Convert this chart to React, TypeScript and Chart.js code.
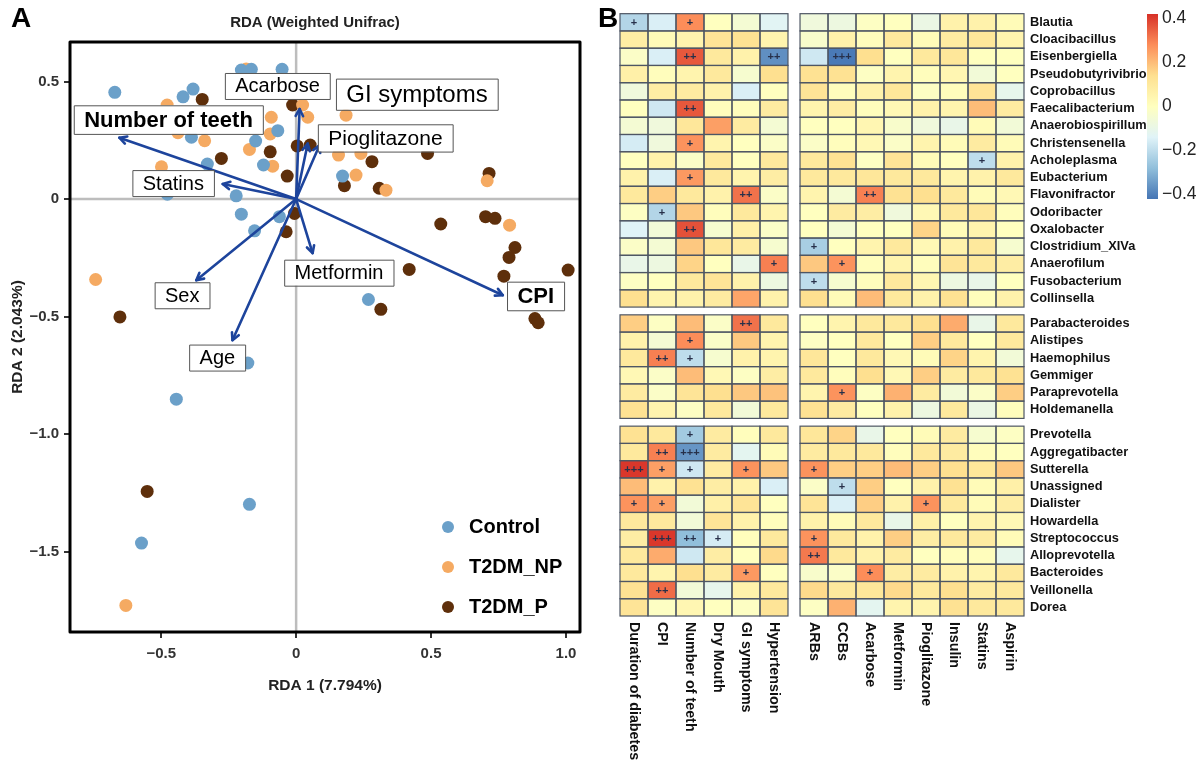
import React, { useEffect, useRef } from "react";
import { Chart, registerables } from "chart.js";

Chart.register(...registerables);

const FONT = '"Liberation Sans", Arial, Helvetica, sans-serif';

// ---------------- Panel A: RDA biplot data ----------------
const GROUP_NAMES = ["Control", "T2DM_NP", "T2DM_P"];
const GROUP_COLORS = ["#6ba0c9", "#f5aa62", "#5e2f0b"];

const CONTROL_X = [-0.672, -0.203, -0.166, -0.052, -0.419, -0.382, -0.068, -0.388, -0.15, -0.121, -0.329, -0.222, -0.477, -0.203, -0.154, -0.062, -0.179, -0.444, -0.173, -0.573, 0.172, 0.268];
const CONTROL_Y = [0.454, 0.549, 0.552, 0.552, 0.435, 0.468, 0.291, 0.263, 0.247, 0.145, 0.149, 0.014, 0.021, -0.064, -0.135, -0.075, -0.697, -0.851, -1.298, -1.463, 0.098, -0.427];

const NP_X = [-0.478, -0.438, -0.339, -0.499, -0.092, -0.096, -0.173, -0.087, 0.024, 0.043, -0.185, 0.185, 0.157, 0.24, 0.222, 0.333, 0.708, 0.791, -0.743, -0.631];
const NP_Y = [0.4, 0.282, 0.248, 0.137, 0.348, 0.277, 0.211, 0.14, 0.4, 0.348, 0.553, 0.357, 0.187, 0.194, 0.102, 0.038, 0.078, -0.111, -0.342, -1.728];

const P_X = [-0.348, -0.277, -0.096, -0.033, -0.013, 0.004, 0.052, -0.006, -0.037, 0.179, 0.281, 0.308, 0.487, 0.715, 0.536, 0.702, 0.737, 0.811, 0.789, 0.77, 1.008, 0.419, 0.314, 0.885, 0.897, -0.653, -0.552];
const P_Y = [0.424, 0.173, 0.201, 0.098, 0.4, 0.226, 0.23, -0.061, -0.139, 0.057, 0.159, 0.046, 0.194, 0.109, -0.106, -0.075, -0.082, -0.206, -0.248, -0.328, -0.302, -0.299, -0.469, -0.508, -0.526, -0.501, -1.243];

const ARROW_NAMES = ["Number of teeth", "Statins", "Acarbose", "GI symptoms", "Pioglitazone", "Metformin", "CPI", "Sex", "Age"];
const ARROW_X = [-0.655, -0.272, 0.013, 0.043, 0.087, 0.061, 0.766, -0.37, -0.236];
const ARROW_Y = [0.261, 0.064, 0.383, 0.236, 0.23, -0.23, -0.409, -0.345, -0.6];
const LABEL_X = [-0.473, -0.455, -0.069, 0.448, 0.331, 0.159, 0.888, -0.422, -0.292];
const LABEL_Y = [0.338, 0.068, 0.481, 0.446, 0.26, -0.313, -0.412, -0.409, -0.674];
const LABEL_SIZE = [22, 20, 20, 24, 21, 20, 22, 20, 20];
const LABEL_BOLD = [true, false, false, false, false, false, true, false, false];

const X_MIN = -0.838;
const X_MAX = 1.052;
const Y_MIN = -1.841;
const Y_MAX = 0.668;
const X_TICKS = [-0.5, 0, 0.5, 1.0];
const X_TICK_LABELS = ["\u22120.5", "0", "0.5", "1.0"];
const Y_TICKS = [0.5, 0, -0.5, -1.0, -1.5];
const Y_TICK_LABELS = ["0.5", "0", "\u22120.5", "\u22121.0", "\u22121.5"];

// ---------------- Panel B: heatmap data ----------------
const ROWS = [
  "Blautia", "Cloacibacillus", "Eisenbergiella", "Pseudobutyrivibrio", "Coprobacillus", "Faecalibacterium",
  "Anaerobiospirillum", "Christensenella", "Acholeplasma", "Eubacterium", "Flavonifractor", "Odoribacter",
  "Oxalobacter", "Clostridium_XIVa", "Anaerofilum", "Fusobacterium", "Collinsella",
  "Parabacteroides", "Alistipes", "Haemophilus", "Gemmiger", "Paraprevotella", "Holdemanella",
  "Prevotella", "Aggregatibacter", "Sutterella", "Unassigned", "Dialister", "Howardella",
  "Streptococcus", "Alloprevotella", "Bacteroides", "Veillonella", "Dorea",
];
const COLS = [
  "Duration of diabetes", "CPI", "Number of teeth", "Dry Mouth", "GI symptoms", "Hypertension",
  "ARBs", "CCBs", "Acarbose", "Metformin", "Pioglitazone", "Insulin", "Statins", "Aspirin",
];
const ROW_GROUPS = [17, 6, 11];
const COL_GROUPS = [6, 8];

const VALUES = [
  [-0.22, -0.15, 0.28, 0.0, -0.05, -0.13, -0.07, -0.08, -0.01, 0.0, -0.09, 0.06, 0.06, 0.02],
  [0.08, 0.02, 0.05, 0.12, 0.13, 0.05, -0.03, 0.06, 0.01, 0.1, 0.02, 0.09, 0.11, 0.05],
  [-0.02, -0.15, 0.36, 0.1, 0.06, -0.37, -0.17, -0.41, 0.14, 0.0, 0.1, 0.11, 0.0, 0.0],
  [0.07, 0.01, 0.05, 0.1, -0.04, 0.14, 0.13, 0.13, -0.01, 0.05, 0.01, 0.04, -0.06, 0.0],
  [-0.07, 0.08, 0.09, 0.06, -0.15, 0.0, 0.12, 0.01, 0.06, 0.11, -0.01, 0.01, 0.12, -0.11],
  [0.0, -0.17, 0.36, 0.01, 0.01, 0.09, 0.05, 0.08, 0.01, 0.03, 0.06, 0.05, 0.2, 0.09],
  [-0.05, -0.07, 0.11, 0.25, 0.09, -0.05, 0.0, 0.0, 0.04, -0.03, -0.07, -0.1, 0.02, -0.06],
  [-0.16, -0.07, 0.27, 0.05, 0.0, -0.02, -0.02, 0.01, 0.03, -0.02, 0.05, 0.02, 0.09, 0.02],
  [0.0, 0.06, -0.02, 0.1, 0.0, 0.1, 0.1, 0.13, -0.01, 0.12, 0.02, 0.0, -0.2, 0.06],
  [0.06, -0.15, 0.26, 0.1, 0.05, 0.08, 0.1, 0.1, 0.11, 0.1, 0.1, 0.05, 0.06, 0.1],
  [0.1, 0.17, 0.1, 0.06, 0.32, -0.02, 0.05, -0.05, 0.3, 0.13, 0.14, 0.1, 0.02, 0.03],
  [-0.01, -0.22, 0.18, 0.01, 0.1, 0.05, 0.0, 0.09, 0.08, -0.07, 0.03, 0.1, 0.11, 0.01],
  [-0.14, -0.06, 0.37, -0.04, 0.07, -0.02, 0.0, -0.05, 0.0, 0.0, 0.16, 0.02, 0.05, 0.0],
  [-0.02, -0.05, 0.18, 0.11, 0.09, -0.04, -0.24, 0.0, 0.05, 0.1, 0.03, 0.06, 0.1, -0.04],
  [-0.1, -0.08, 0.16, 0.0, -0.1, 0.3, 0.18, 0.27, 0.01, 0.05, 0.01, 0.12, 0.1, 0.08],
  [-0.01, 0.0, 0.1, 0.12, 0.06, -0.08, -0.2, -0.04, 0.01, 0.1, 0.04, -0.08, -0.1, 0.0],
  [0.14, 0.05, 0.06, 0.09, 0.24, 0.06, 0.14, 0.02, 0.2, 0.1, 0.06, 0.13, 0.01, 0.06],
  [0.17, -0.01, 0.2, -0.02, 0.32, 0.1, 0.0, 0.05, 0.1, 0.1, 0.14, 0.23, -0.1, 0.1],
  [0.06, -0.05, 0.28, -0.02, 0.18, 0.05, -0.01, 0.0, 0.1, 0.0, 0.17, 0.1, 0.0, 0.1],
  [0.1, 0.3, -0.2, -0.04, 0.06, 0.05, 0.11, 0.0, 0.1, 0.03, 0.02, 0.16, 0.05, -0.06],
  [0.03, -0.02, 0.2, 0.03, -0.01, 0.08, 0.1, 0.01, 0.14, 0.03, 0.17, 0.09, 0.1, 0.13],
  [0.09, -0.02, 0.12, 0.14, 0.18, 0.19, 0.05, 0.27, -0.01, 0.22, 0.09, -0.06, -0.02, 0.17],
  [0.13, 0.05, -0.01, 0.1, -0.06, 0.1, 0.13, 0.09, 0.0, 0.06, -0.08, 0.1, -0.09, 0.01],
  [0.13, 0.1, -0.25, 0.09, 0.01, 0.1, 0.11, 0.16, -0.1, 0.0, 0.02, 0.09, -0.04, -0.01],
  [0.1, 0.3, -0.36, 0.09, -0.12, 0.02, 0.09, 0.1, 0.1, 0.01, 0.1, 0.09, 0.01, 0.0],
  [0.41, 0.25, -0.17, 0.09, 0.27, 0.18, 0.27, 0.17, 0.17, 0.2, 0.17, 0.14, 0.11, 0.18],
  [0.2, 0.06, 0.13, 0.08, 0.06, -0.15, -0.02, -0.2, 0.17, 0.0, 0.06, 0.13, 0.02, 0.07],
  [0.27, 0.25, -0.06, 0.07, 0.12, 0.0, 0.12, -0.15, 0.17, 0.06, 0.27, 0.1, 0.02, 0.08],
  [0.1, 0.1, -0.06, 0.12, 0.06, 0.01, 0.06, 0.02, 0.1, -0.1, 0.07, 0.0, 0.05, 0.03],
  [0.08, 0.41, -0.28, -0.16, 0.01, 0.1, 0.27, 0.1, 0.06, 0.17, 0.08, 0.1, 0.09, 0.02],
  [0.1, 0.23, -0.17, 0.08, 0.0, 0.15, 0.31, 0.1, 0.06, 0.09, 0.0, 0.01, 0.01, -0.11],
  [0.1, 0.05, 0.14, 0.09, 0.26, 0.0, -0.03, -0.02, 0.28, 0.08, 0.09, 0.06, 0.05, 0.1],
  [0.13, 0.33, -0.06, -0.11, 0.06, 0.1, 0.15, 0.1, 0.11, 0.15, 0.1, 0.14, 0.09, 0.1],
  [0.12, -0.01, 0.04, 0.0, -0.01, 0.12, -0.01, 0.22, -0.12, 0.05, 0.05, 0.13, 0.1, 0.1],
];

// significance marks: row index, column index, mark
const SIG_ROW = [0, 0, 2, 2, 2, 5, 7, 8, 9, 10, 10, 11, 12, 13, 14, 14, 15, 17, 18, 19, 19, 21, 23, 24, 24, 25, 25, 25, 25, 25, 26, 27, 27, 27, 29, 29, 29, 29, 30, 31, 31, 32];
const SIG_COL = [0, 2, 2, 5, 7, 2, 2, 12, 2, 4, 8, 1, 2, 6, 5, 7, 6, 4, 2, 1, 2, 7, 2, 1, 2, 0, 1, 2, 4, 6, 7, 0, 1, 10, 1, 2, 3, 6, 6, 4, 8, 1];
const SIG_MARK = ["+", "+", "++", "++", "+++", "++", "+", "+", "+", "++", "++", "+", "++", "+", "+", "+", "+", "++", "+", "++", "+", "+", "+", "++", "+++", "+++", "+", "+", "+", "+", "+", "+", "+", "+", "+++", "++", "+", "+", "++", "+", "+", "++"];

const COLOR_MIN = -0.42;
const COLOR_MAX = 0.42;
const PALETTE = ["#4575B4", "#91BFDB", "#E0F3F8", "#FFFFBF", "#FEE090", "#FC8D59", "#D73027"];
const CB_TICKS = [0.4, 0.2, 0, -0.2, -0.4];
const CB_TICK_LABELS = ["0.4", "0.2", "0", "\u22120.2", "\u22120.4"];

const ROW_GAP = 0.45;
const COL_GAP = 0.43;

function hexToRgb(h: string) {
  const n = parseInt(h.slice(1), 16);
  return [(n >> 16) & 255, (n >> 8) & 255, n & 255];
}
function colorFor(v: number) {
  let t = (v - COLOR_MIN) / (COLOR_MAX - COLOR_MIN);
  t = Math.max(0, Math.min(1, t)) * (PALETTE.length - 1);
  const i = Math.min(Math.floor(t), PALETTE.length - 2);
  const f = t - i;
  const a = hexToRgb(PALETTE[i]);
  const b = hexToRgb(PALETTE[i + 1]);
  const c = a.map((x, k) => Math.round(x + (b[k] - x) * f));
  return `rgb(${c[0]},${c[1]},${c[2]})`;
}
function rowStart(r: number) {
  let g = 0, acc = 0;
  for (let k = 0; k < ROW_GROUPS.length; k++) {
    acc += ROW_GROUPS[k];
    if (r < acc) { g = k; break; }
  }
  return r + g * ROW_GAP;
}
function colStart(c: number) {
  let g = 0, acc = 0;
  for (let k = 0; k < COL_GROUPS.length; k++) {
    acc += COL_GROUPS[k];
    if (c < acc) { g = k; break; }
  }
  return c + g * COL_GAP;
}

// ---------------- Plugins ----------------
const rdaPlugin = {
  id: "rdaDecor",
  beforeDatasetsDraw(chart: any) {
    const { ctx, chartArea: ca, scales } = chart;
    const x = scales.x, y = scales.y;
    ctx.save();
    ctx.strokeStyle = "#bdbdbd";
    ctx.lineWidth = 2.5;
    ctx.beginPath();
    ctx.moveTo(x.getPixelForValue(0), ca.top);
    ctx.lineTo(x.getPixelForValue(0), ca.bottom);
    ctx.moveTo(ca.left, y.getPixelForValue(0));
    ctx.lineTo(ca.right, y.getPixelForValue(0));
    ctx.stroke();
    ctx.restore();
  },
  afterDatasetsDraw(chart: any) {
    const { ctx, chartArea: ca, scales } = chart;
    const x = scales.x, y = scales.y;
    const ox = x.getPixelForValue(0), oy = y.getPixelForValue(0);
    ctx.save();
    // arrows
    ctx.strokeStyle = "#1d449c";
    ctx.lineWidth = 2.6;
    ctx.lineCap = "round";
    ctx.lineJoin = "round";
    ARROW_NAMES.forEach((_, i) => {
      const tx = x.getPixelForValue(ARROW_X[i]);
      const ty = y.getPixelForValue(ARROW_Y[i]);
      ctx.beginPath();
      ctx.moveTo(ox, oy);
      ctx.lineTo(tx, ty);
      ctx.stroke();
      const ang = Math.atan2(ty - oy, tx - ox);
      const L = 8, a = Math.PI / 6.5;
      ctx.beginPath();
      ctx.moveTo(tx - L * Math.cos(ang - a), ty - L * Math.sin(ang - a));
      ctx.lineTo(tx, ty);
      ctx.lineTo(tx - L * Math.cos(ang + a), ty - L * Math.sin(ang + a));
      ctx.stroke();
    });
    // labels
    ARROW_NAMES.forEach((name, i) => {
      const cx = x.getPixelForValue(LABEL_X[i]);
      const cy = y.getPixelForValue(LABEL_Y[i]);
      const size = LABEL_SIZE[i];
      ctx.font = `${LABEL_BOLD[i] ? "bold " : ""}${size}px ${FONT}`;
      const w = ctx.measureText(name).width + 20;
      const h = size * 1.3;
      ctx.fillStyle = "#ffffff";
      ctx.fillRect(cx - w / 2, cy - h / 2, w, h);
      ctx.strokeStyle = "#555555";
      ctx.lineWidth = 1;
      ctx.strokeRect(cx - w / 2 + 0.5, cy - h / 2 + 0.5, w, h);
      ctx.fillStyle = "#000000";
      ctx.textAlign = "center";
      ctx.textBaseline = "middle";
      ctx.fillText(name, cx, cy + 1);
    });
    // legend
    const lx = ca.right - 132;
    const ly = ca.bottom - 105;
    GROUP_NAMES.forEach((g, i) => {
      const yy = ly + i * 40;
      ctx.fillStyle = GROUP_COLORS[i];
      ctx.beginPath();
      ctx.arc(lx, yy, 6, 0, Math.PI * 2);
      ctx.fill();
      ctx.fillStyle = "#000";
      ctx.font = `bold 20px ${FONT}`;
      ctx.textAlign = "left";
      ctx.textBaseline = "middle";
      ctx.fillText(g, lx + 21, yy);
    });
    // frame
    ctx.strokeStyle = "#000";
    ctx.lineWidth = 3;
    ctx.strokeRect(ca.left, ca.top, ca.right - ca.left, ca.bottom - ca.top);
    ctx.restore();
  },
  afterDraw(chart: any) {
    const { ctx, chartArea: ca } = chart;
    ctx.save();
    ctx.fillStyle = "#000";
    ctx.font = `bold 28px ${FONT}`;
    ctx.textAlign = "left";
    ctx.textBaseline = "middle";
    ctx.fillText("A", 11, 19);
    ctx.fillStyle = "#222";
    ctx.font = `bold 15px ${FONT}`;
    ctx.textAlign = "center";
    ctx.fillText("RDA (Weighted Unifrac)", 315, 23);
    ctx.font = `bold 15.5px ${FONT}`;
    ctx.fillText("RDA 1 (7.794%)", (ca.left + ca.right) / 2, 686);
    ctx.translate(18, (ca.top + ca.bottom) / 2);
    ctx.rotate(-Math.PI / 2);
    ctx.fillText("RDA 2 (2.043%)", 0, 0);
    ctx.restore();
  },
};

const heatPlugin = {
  id: "heatCells",
  beforeDatasetsDraw(chart: any) {
    const { ctx, chartArea: ca, scales } = chart;
    const x = scales.x, y = scales.y;
    ctx.save();
    for (let r = 0; r < ROWS.length; r++) {
      for (let c = 0; c < COLS.length; c++) {
        const x0 = x.getPixelForValue(colStart(c));
        const x1 = x.getPixelForValue(colStart(c) + 1);
        const y0 = y.getPixelForValue(rowStart(r));
        const y1 = y.getPixelForValue(rowStart(r) + 1);
        ctx.fillStyle = colorFor(VALUES[r][c]);
        ctx.fillRect(x0, y0, x1 - x0, y1 - y0);
      }
    }
    ctx.strokeStyle = "#4e5664";
    ctx.lineWidth = 1.2;
    for (let r = 0; r < ROWS.length; r++) {
      for (let c = 0; c < COLS.length; c++) {
        const x0 = x.getPixelForValue(colStart(c));
        const x1 = x.getPixelForValue(colStart(c) + 1);
        const y0 = y.getPixelForValue(rowStart(r));
        const y1 = y.getPixelForValue(rowStart(r) + 1);
        ctx.strokeRect(x0, y0, x1 - x0, y1 - y0);
      }
    }
    ctx.fillStyle = "#27304a";
    ctx.font = `bold 11px ${FONT}`;
    ctx.textAlign = "center";
    ctx.textBaseline = "middle";
    SIG_MARK.forEach((m, k) => {
      const cx = x.getPixelForValue(colStart(SIG_COL[k]) + 0.5);
      const cy = y.getPixelForValue(rowStart(SIG_ROW[k]) + 0.5);
      ctx.fillText(m, cx, cy + 0.5);
    });
    // column labels
    ctx.fillStyle = "#111";
    ctx.font = `bold 14.3px ${FONT}`;
    ctx.textAlign = "left";
    ctx.textBaseline = "middle";
    COLS.forEach((name, c) => {
      const cx = x.getPixelForValue(colStart(c) + 0.5);
      ctx.save();
      ctx.translate(cx, ca.bottom + 6);
      ctx.rotate(Math.PI / 2);
      ctx.fillText(name, 0, 0);
      ctx.restore();
    });
    ctx.restore();
  },
  afterDraw(chart: any) {
    const { ctx } = chart;
    ctx.save();
    ctx.fillStyle = "#000";
    ctx.font = `bold 28px ${FONT}`;
    ctx.textAlign = "left";
    ctx.textBaseline = "middle";
    ctx.fillText("B", 8, 19);
    // colour bar
    const bx = 557, bw = 11, top = 14, bottom = 199;
    const grad = ctx.createLinearGradient(0, top, 0, bottom);
    PALETTE.slice().reverse().forEach((col, i) => grad.addColorStop(i / (PALETTE.length - 1), col));
    ctx.fillStyle = grad;
    ctx.fillRect(bx, top, bw, bottom - top);
    ctx.fillStyle = "#222";
    ctx.font = `17.5px ${FONT}`;
    ctx.textAlign = "left";
    ctx.textBaseline = "middle";
    CB_TICKS.forEach((v, i) => {
      const yy = top + ((COLOR_MAX - v) / (COLOR_MAX - COLOR_MIN)) * (bottom - top);
      ctx.fillText(CB_TICK_LABELS[i], bx + bw + 4, yy);
    });
    ctx.restore();
  },
};

export default function App() {
  const refA = useRef<HTMLCanvasElement>(null);
  const refB = useRef<HTMLCanvasElement>(null);

  useEffect(() => {
    const tickFont = { family: FONT, size: 15, weight: "bold" as const };
    const chartA = new Chart(refA.current as HTMLCanvasElement, {
      type: "scatter",
      data: {
        datasets: [
          { label: GROUP_NAMES[0], data: CONTROL_X.map((v, i) => ({ x: v, y: CONTROL_Y[i] })), backgroundColor: GROUP_COLORS[0], borderWidth: 0, pointRadius: 6.5, pointHoverRadius: 6.5 },
          { label: GROUP_NAMES[1], data: NP_X.map((v, i) => ({ x: v, y: NP_Y[i] })), backgroundColor: GROUP_COLORS[1], borderWidth: 0, pointRadius: 6.5, pointHoverRadius: 6.5 },
          { label: GROUP_NAMES[2], data: P_X.map((v, i) => ({ x: v, y: P_Y[i] })), backgroundColor: GROUP_COLORS[2], borderWidth: 0, pointRadius: 6.5, pointHoverRadius: 6.5 },
        ],
      },
      options: {
        animation: false,
        responsive: false,
        maintainAspectRatio: false,
        events: [],
        layout: { padding: { left: 0, top: 42, right: 20, bottom: 0 } },
        plugins: { legend: { display: false }, tooltip: { enabled: false }, title: { display: false } },
        scales: {
          x: {
            type: "linear",
            min: X_MIN,
            max: X_MAX,
            afterBuildTicks: (s: any) => { s.ticks = X_TICKS.map((v) => ({ value: v })); },
            afterFit: (s: any) => { s.height = 140; },
            ticks: {
              autoSkip: false,
              maxRotation: 0,
              padding: 7,
              color: "#333",
              font: tickFont,
              callback: (v: any) => X_TICK_LABELS[X_TICKS.indexOf(Number(v))],
            },
            grid: { drawOnChartArea: false, drawTicks: true, tickLength: 6, color: "#333", lineWidth: 2 },
            border: { display: false },
          },
          y: {
            type: "linear",
            min: Y_MIN,
            max: Y_MAX,
            afterBuildTicks: (s: any) => { s.ticks = Y_TICKS.map((v) => ({ value: v })); },
            afterFit: (s: any) => { s.width = 70; },
            ticks: {
              autoSkip: false,
              padding: 5,
              color: "#333",
              font: tickFont,
              callback: (v: any) => Y_TICK_LABELS[Y_TICKS.indexOf(Number(v))],
            },
            grid: { drawOnChartArea: false, drawTicks: true, tickLength: 6, color: "#333", lineWidth: 2 },
            border: { display: false },
          },
        },
      },
      plugins: [rdaPlugin],
    } as any);

    const yMax = ROWS.length + (ROW_GROUPS.length - 1) * ROW_GAP;
    const xMax = COLS.length + (COL_GROUPS.length - 1) * COL_GAP;
    const chartB = new Chart(refB.current as HTMLCanvasElement, {
      type: "scatter",
      data: { datasets: [] },
      options: {
        animation: false,
        responsive: false,
        maintainAspectRatio: false,
        events: [],
        layout: { padding: { left: 30, top: 6, right: 0, bottom: 156 } },
        plugins: { legend: { display: false }, tooltip: { enabled: false } },
        scales: {
          x: { type: "linear", display: false, min: 0, max: xMax },
          y: {
            type: "linear",
            position: "right",
            reverse: true,
            min: 0,
            max: yMax,
            afterBuildTicks: (s: any) => { s.ticks = ROWS.map((_, r) => ({ value: rowStart(r) + 0.5 })); },
            afterFit: (s: any) => { s.width = 176; },
            ticks: {
              autoSkip: false,
              padding: 6,
              color: "#111",
              font: { family: FONT, size: 12.8, weight: "bold" },
              callback: (_v: any, i: number) => ROWS[i],
            },
            grid: { display: false, drawTicks: false },
            border: { display: false },
          },
        },
      },
      plugins: [heatPlugin],
    } as any);

    return () => {
      chartA.destroy();
      chartB.destroy();
    };
  }, []);

  return (
    <div style={{ position: "absolute", left: 0, top: 0, width: 1200, height: 772, background: "#ffffff" }}>
      <canvas ref={refA} width={600} height={772} style={{ position: "absolute", left: 0, top: 0, width: 600, height: 772 }} />
      <canvas ref={refB} width={610} height={772} style={{ position: "absolute", left: 590, top: 0, width: 610, height: 772 }} />
    </div>
  );
}
